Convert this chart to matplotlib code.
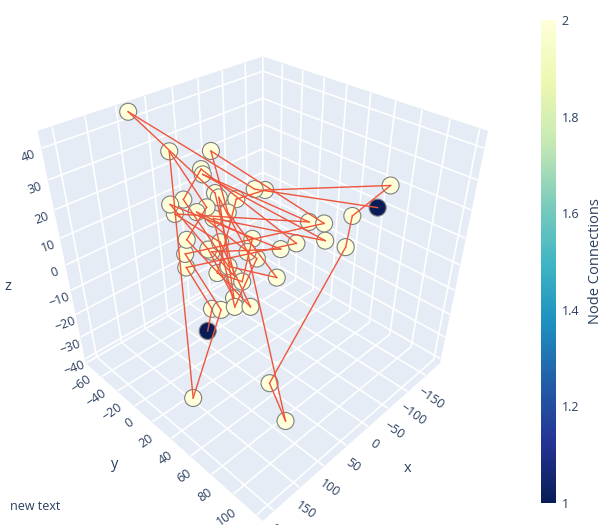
import numpy as np
import matplotlib
matplotlib.use('Agg')
import matplotlib.pyplot as plt

# node positions (x, y, z) read from the 3D scene
node_x = [94, 79, 19, 48, 51, -18, -33, -87, 121, 100, 118, 89, 47, 46, 21, 71, 69, 44, -24, -30,
          -54, -32, -51, -9, 2, 22, 108, 111, 111, 85, 81, 70, 36, 24, 76, 62, 55, 52, 14, 99,
          95, 75, 84, 72, 181, 123, 128, -76, 122]
node_y = [-51, -21, -13, -8, -5, 10, 13, 94, 1, 2, 3, 8, 4, 7, 11, 8, 13, 14, 56, 66,
          79, 67, 77, 52, 43, 26, 7, 6, 6, 15, 16, 19, 28, 31, 18, 22, 24, 30, 45, 23,
          30, 33, 38, 47, 44, 87, 103, 90, 30]
node_z = [44, 35, 32, 29, 28, 20, 19, 31, 25, 25, 22, 21, 23, 22, 20, 21, 18, 18, 17, 18,
          21, 12, 10, 10, 7, 9, 13, 8, 3, 9, 8, 11, 6, 3, 0, 2, -2, -3, -2, -10,
          -9, -6, -7, -6, -29, -17, -26, 24, -14]
node_connections = [2] * 47 + [1, 1]

edges = [(0, 5), (0, 12), (1, 44), (1, 15), (2, 17), (2, 19), (3, 9), (3, 23), (4, 21), (4, 18),
         (5, 47), (6, 7), (6, 14), (7, 20), (8, 24), (8, 29), (9, 35), (10, 18), (10, 31), (11, 25),
         (11, 33), (12, 36), (13, 32), (13, 41), (14, 34), (15, 26), (16, 21), (16, 42), (17, 38),
         (19, 27), (20, 22), (22, 45), (23, 28), (24, 30), (25, 37), (26, 43), (27, 40), (28, 39),
         (32, 46), (45, 46), (44, 40), (48, 39), (29, 41), (30, 36), (31, 43), (33, 42), (34, 37),
         (35, 38)]

x_ticks = [-150, -100, -50, 0, 50, 100, 150, 200]
y_ticks = [-60, -40, -20, 0, 20, 40, 60, 80, 100, 120]
z_ticks = [-40, -30, -20, -10, 0, 10, 20, 30, 40]
cbar_ticks = [1, 1.2, 1.4, 1.6, 1.8, 2]
cbar_labels = ['1', '1.2', '1.4', '1.6', '1.8', '2']

xlim = (-190, 220)
ylim = (-60, 125)
zlim = (-42, 45)

text_color = '#2a3f5f'
plt.rcParams['font.family'] = ['Open Sans', 'DejaVu Sans']
plt.rcParams['grid.color'] = 'white'
plt.rcParams['grid.linewidth'] = 1.2

fig = plt.figure(figsize=(6.13, 5.25), dpi=100)
ax = fig.add_axes([-0.0228, -0.0105, 0.88, 1], projection='3d')
ax.set_xlim(xlim)
ax.set_ylim(ylim)
ax.set_zlim(zlim)
ax.set_box_aspect((1, 1, 1), zoom=0.895)
ax.view_init(elev=35.26, azim=45)
ax.set_proj_type('persp', focal_length=0.238)
ax.set_xticks(x_ticks)
ax.set_yticks(y_ticks)
ax.set_zticks(z_ticks)
for axis in (ax.xaxis, ax.yaxis, ax.zaxis):
    axis.set_pane_color('#E5ECF6')
    axis.line.set_color((1, 1, 1, 0))
    axis._axinfo['tick']['inward_factor'] = 0
    axis._axinfo['tick']['outward_factor'] = 0
ax.tick_params(colors=text_color, labelsize=9, pad=-2)
ax.tick_params(axis='x', labelrotation=-35)
ax.tick_params(axis='y', labelrotation=35)
ax.tick_params(axis='z', labelrotation=20)

# axis titles sit where the reference shows them
fig.text(408 / 613, 1 - 468 / 525, 'x', fontsize=10.5, color=text_color, ha='center', va='center')
fig.text(115 / 613, 1 - 465 / 525, 'y', fontsize=10.5, color=text_color, ha='center', va='center')
fig.text(8 / 613, 1 - 287 / 525, 'z', fontsize=10.5, color=text_color, ha='center', va='center')

cmap = plt.get_cmap('YlGnBu_r')
norm = plt.Normalize(1, 2)
ax.computed_zorder = False
ax.scatter(node_x, node_y, node_z, s=150, c=node_connections, cmap=cmap, norm=norm,
           edgecolors='#7f7f7f', linewidths=0.8, depthshade=False, alpha=1, zorder=2)
for i, j in edges:
    ax.plot([node_x[i], node_x[j]], [node_y[i], node_y[j]], [node_z[i], node_z[j]],
            color='#EF553B', lw=1, zorder=3)

# colorbar
cax = fig.add_axes([541 / 613, 22 / 525, 15 / 613, 483 / 525])
sm = plt.cm.ScalarMappable(cmap=cmap, norm=norm)
cb = fig.colorbar(sm, cax=cax)
cb.outline.set_visible(False)
cb.set_ticks(cbar_ticks)
cb.set_ticklabels(cbar_labels)
cb.ax.tick_params(length=0, labelsize=9, colors=text_color, pad=4)
cb.set_label('Node Connections', fontsize=10.5, color=text_color, labelpad=6)

fig.text(10 / 613, 19 / 525, 'new text', fontsize=9, color=text_color, va='center')

fig.savefig('out.png')
